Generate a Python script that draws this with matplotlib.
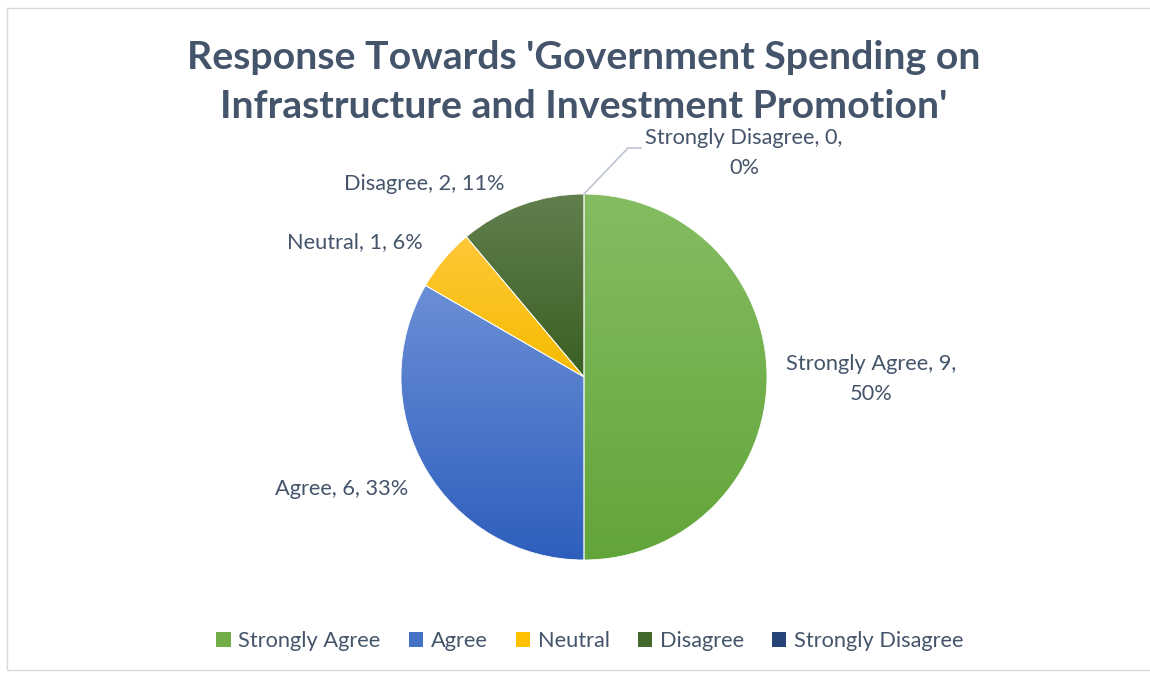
import matplotlib
matplotlib.use("Agg")
import matplotlib.pyplot as plt
import numpy as np
from matplotlib.colors import LinearSegmentedColormap
from matplotlib.patches import Rectangle
from matplotlib.lines import Line2D

categories = ["Strongly Agree", "Agree", "Neutral", "Disagree", "Strongly Disagree"]
counts = [9, 6, 1, 2, 0]
percents = ["50%", "33%", "6%", "11%", "0%"]
title = "Response Towards 'Government Spending on\nInfrastructure and Investment Promotion'"

top_colors = ["#85BD62", "#6B8FD6", "#FFC838", "#627F4E", "#3A5690"]
bottom_colors = ["#62A539", "#2E5EBD", "#F5BB00", "#3A5F22", "#203C6E"]
legend_colors = ["#70AD47", "#4472C4", "#FFC000", "#43682B", "#264478"]

TXT = "#44546A"
W, H = 1150, 675
fig = plt.figure(figsize=(W / 100, H / 100), dpi=100)
ax = fig.add_axes([0, 0, 1, 1])

cx, cy, r = 584, H - 377, 183
wedges, _ = ax.pie(counts, startangle=90, counterclock=False, center=(cx, cy),
                   radius=r, colors=legend_colors,
                   wedgeprops=dict(edgecolor="white", linewidth=0.6))

# gradient fills clipped to each wedge
for w, c1, c2 in zip(wedges, top_colors, bottom_colors):
    if w.theta2 - w.theta1 <= 0:
        continue
    w.set_facecolor("none")
    w.set_zorder(3)
    bb = w.get_path().get_extents(w.get_patch_transform())
    cmap = LinearSegmentedColormap.from_list("g", [c2, c1])
    grad = np.linspace(0, 1, 256).reshape(-1, 1)
    im = ax.imshow(grad, cmap=cmap, origin="lower", aspect="auto",
                   extent=[bb.x0, bb.x1, bb.y0, bb.y1], zorder=2,
                   interpolation="bilinear")
    im.set_clip_path(w)

ax.set_xlim(0, W)
ax.set_ylim(0, H)
ax.set_aspect("equal")
ax.axis("off")

# chart border
ax.add_patch(Rectangle((7, H - 670), W + 10, 662, fill=False, edgecolor="#D9D9D9",
                       linewidth=1, zorder=1))

ax.text(584, H - 82, title, ha="center", va="center", fontsize=28.3,
        fontweight="bold", color=TXT, family="Lato", linespacing=1.47)

lfs = 15.7
label_pos = [(871, H - 379), (342, H - 489), (355, H - 242), (424, H - 184), (744, H - 153)]
for i, (name, n, p) in enumerate(zip(categories, counts, percents)):
    if i in (0, 4):
        s = f"{name}, {n},\n{p}"
    else:
        s = f"{name}, {n}, {p}"
    ax.text(*label_pos[i], s, ha="center", va="center", fontsize=lfs, color=TXT,
            family="Lato", linespacing=1.62)

# leader line for zero slice
ax.add_line(Line2D([cx, 628, 641], [cy + r, H - 148, H - 148], color="#BFC5CF",
                   linewidth=1.2, zorder=4))

handles = [Rectangle((0, 0), 1, 1, facecolor=c) for c in legend_colors]
fig.legend(handles, categories, loc="center", bbox_to_anchor=(590 / W, 1 - 641 / H),
           ncol=5, frameon=False, prop={"family": "Lato", "size": lfs},
           labelcolor=TXT, handlelength=0.65, handleheight=0.65, handletextpad=0.35,
           columnspacing=1.3)

fig.savefig("out.png", dpi=100)
